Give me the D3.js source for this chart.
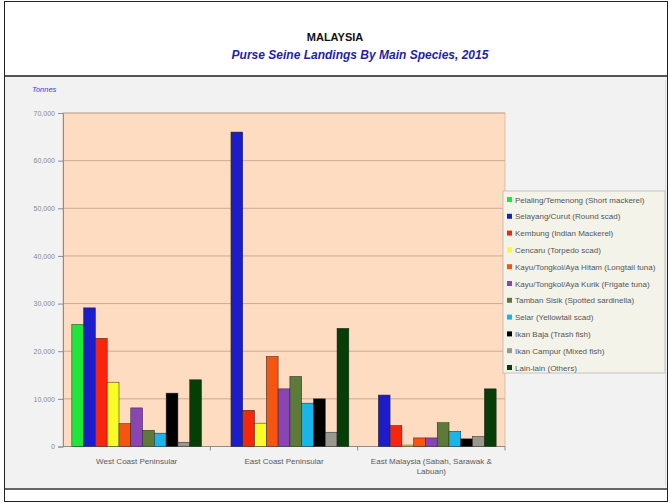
<!DOCTYPE html>
<html>
<head>
<meta charset="utf-8">
<script src="https://cdn.jsdelivr.net/npm/d3@7"></script>
<style>
  html, body { margin: 0; padding: 0; background: #fff; }
  svg { display: block; font-family: 'Liberation Sans', Arial, sans-serif; }
</style>
</head>
<body>
<div class="chart"></div>
<script>
// regions on the x axis
const regions = ['West Coast Peninsular', 'East Coast Peninsular', 'East Malaysia (Sabah, Sarawak & Labuan)'];
const regionLines = [['West Coast Peninsular'], ['East Coast Peninsular'], ['East Malaysia (Sabah, Sarawak &', 'Labuan)']];

// species (legend order)
const species = [
  'Pelaling/Temenong (Short mackerel)',
  'Selayang/Curut (Round scad)',
  'Kembung (Indian Mackerel)',
  'Cencaru (Torpedo scad)',
  'Kayu/Tongkol/Aya Hitam (Longtail tuna)',
  'Kayu/Tongkol/Aya Kurik (Frigate tuna)',
  'Tamban Sisik (Spotted sardinella)',
  'Selar (Yellowtail scad)',
  'Ikan Baja (Trash fish)',
  'Ikan Campur (Mixed fish)',
  'Lain-lain (Others)'
];
const speciesColors = ['#21e53a', '#1c1cc8', '#f5260c', '#fbfb2a', '#f4560f', '#8a45b5',
  '#5d7a3a', '#1ab4e8', '#000000', '#9a9690', '#073d07'];

// landings in tonnes, one value per species
const westCoast = [25600, 29100, 22700, 13500, 4800, 8100, 3400, 2800, 11200, 900, 14000];
const eastCoast = [0, 66000, 7600, 4900, 18900, 12100, 14700, 9100, 10000, 3000, 24800];
const eastMalaysia = [0, 10800, 4400, 300, 1800, 1800, 5000, 3200, 1600, 2100, 12100];

const yTicks = [0, 10000, 20000, 30000, 40000, 50000, 60000, 70000];

const seriesByRegion = [westCoast, eastCoast, eastMalaysia];
const data = regions.map((r, i) => ({
  region: r,
  values: species.map((s, j) => ({ key: s, value: seriesByRegion[i][j] }))
}));

const width = 670, height = 503;
const plot = { left: 63, right: 505, top: 113, bottom: 446.5 };

const svg = d3.select('.chart').append('svg')
  .attr('width', width)
  .attr('height', height);

// frame and panels
svg.append('rect').attr('x', 0).attr('y', 0).attr('width', width).attr('height', height).attr('fill', '#fff');
svg.append('rect').attr('x', 5).attr('y', 77).attr('width', 662).attr('height', 411).attr('fill', '#f2f2f2');
svg.append('line').attr('x1', 4).attr('x2', 668).attr('y1', 76).attr('y2', 76)
  .attr('stroke', '#555').attr('stroke-width', 2);
svg.append('line').attr('x1', 4).attr('x2', 668).attr('y1', 489).attr('y2', 489)
  .attr('stroke', '#666').attr('stroke-width', 2);
svg.append('rect').attr('x', 4.5).attr('y', 1.5).attr('width', 663).attr('height', 500)
  .attr('fill', 'none').attr('stroke', '#222').attr('stroke-width', 1);
svg.append('line').attr('x1', 665.5).attr('x2', 665.5).attr('y1', 80).attr('y2', 486)
  .attr('stroke', '#ddd');

// titles
svg.append('text').attr('x', 335).attr('y', 41).attr('text-anchor', 'middle')
  .attr('font-size', 11).attr('font-weight', 'bold').attr('fill', '#111').text('MALAYSIA');
svg.append('text').attr('x', 360).attr('y', 59).attr('text-anchor', 'middle')
  .attr('font-size', 12).attr('font-weight', 'bold').attr('font-style', 'italic')
  .attr('fill', '#1f1fa8').text('Purse Seine Landings By Main Species, 2015');

svg.append('text').attr('x', 32).attr('y', 92)
  .attr('font-size', 7.5).attr('font-style', 'italic').attr('fill', '#3a3af0').text('Tonnes');

// scales
const x0 = d3.scaleBand().domain(regions).range([plot.left, plot.right]).padding(0);
const x1 = d3.scaleBand().domain(species)
  .range([x0.bandwidth() * 0.06, x0.bandwidth() * 0.94]).padding(0);
const y = d3.scaleLinear().domain([0, 70000]).range([plot.bottom, plot.top]);
const color = d3.scaleOrdinal().domain(species).range(speciesColors);

// plot area
svg.append('rect')
  .attr('x', plot.left).attr('y', plot.top)
  .attr('width', plot.right - plot.left).attr('height', plot.bottom - plot.top)
  .attr('fill', '#fddcc2').attr('stroke', '#b9a999').attr('stroke-width', 0.6);

svg.append('g')
  .selectAll('line')
  .data(yTicks.slice(1))
  .enter()
  .append('line')
  .attr('x1', plot.left).attr('x2', plot.right)
  .attr('y1', d => y(d)).attr('y2', d => y(d))
  .attr('stroke', '#c6ad97').attr('stroke-width', 1);

// y axis
const yAxis = svg.append('g')
  .attr('transform', `translate(${plot.left}, 0)`)
  .call(d3.axisLeft(y).tickValues(yTicks).tickSize(5).tickPadding(3).tickFormat(d3.format(',')));
yAxis.select('.domain').attr('stroke', '#8c8c8c');
yAxis.selectAll('.tick line').attr('stroke', '#8c8c8c');
yAxis.selectAll('text').attr('font-size', 7).attr('fill', '#8a8a8a').attr('font-family', 'Liberation Sans, Arial, sans-serif');

// x axis
const xAxis = svg.append('g')
  .attr('transform', `translate(0, ${plot.bottom})`);
xAxis.append('line').attr('x1', plot.left).attr('x2', plot.right).attr('y1', 0).attr('y2', 0)
  .attr('stroke', '#8c8c8c');
xAxis.selectAll('.tk')
  .data(regions.slice(1).concat(['end']))
  .enter()
  .append('line')
  .attr('x1', d => d === 'end' ? plot.right : x0(d))
  .attr('x2', d => d === 'end' ? plot.right : x0(d))
  .attr('y1', 0).attr('y2', 4)
  .attr('stroke', '#8c8c8c');
xAxis.selectAll('.lbl')
  .data(regions)
  .enter()
  .append('text')
  .attr('text-anchor', 'middle')
  .attr('font-size', 8)
  .attr('fill', '#5a5a5a')
  .each(function(d, i) {
    d3.select(this).selectAll('tspan')
      .data(regionLines[i])
      .enter()
      .append('tspan')
      .attr('x', x0(d) + x0.bandwidth() / 2)
      .attr('y', (t, k) => 17 + k * 10)
      .text(t => t);
  });

// bars
svg.append('g')
  .selectAll('g')
  .data(data)
  .enter()
  .append('g')
  .attr('transform', d => `translate(${x0(d.region)}, 0)`)
  .selectAll('rect')
  .data(d => d.values.filter(v => v.value > 0))
  .enter()
  .append('rect')
  .attr('x', d => x1(d.key))
  .attr('width', x1.bandwidth())
  .attr('y', d => y(d.value))
  .attr('height', d => plot.bottom - y(d.value))
  .attr('fill', d => color(d.key))
  .attr('stroke', '#222')
  .attr('stroke-width', 0.5);

// legend
const legendBox = { x: 503, y: 191, w: 162, h: 182 };
svg.append('rect')
  .attr('x', legendBox.x).attr('y', legendBox.y)
  .attr('width', legendBox.w).attr('height', legendBox.h)
  .attr('fill', '#f3f3ea').attr('stroke', '#b8b8b8').attr('stroke-width', 0.8);

const legend = svg.append('g')
  .selectAll('g')
  .data(species)
  .enter()
  .append('g')
  .attr('transform', (d, i) => `translate(${legendBox.x + 4}, ${legendBox.y + 9 + i * 16.8})`);

legend.append('rect')
  .attr('x', 0).attr('y', -3)
  .attr('width', 5).attr('height', 5)
  .attr('fill', color);

legend.append('text')
  .attr('x', 8)
  .attr('y', 0)
  .attr('dy', '0.32em')
  .attr('font-size', 8)
  .attr('fill', '#555')
  .text(d => d);
</script>
</body>
</html>
